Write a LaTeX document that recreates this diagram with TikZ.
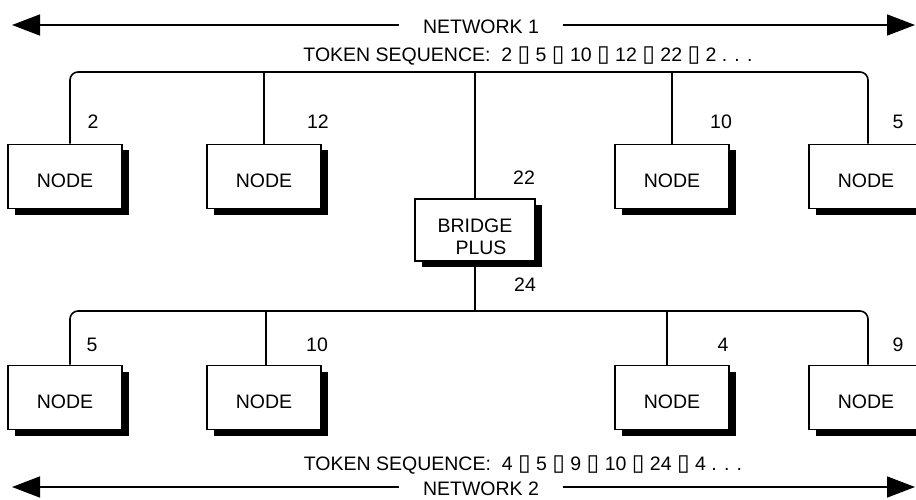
\documentclass[tikz,border=0pt]{standalone}
\usepackage{fontspec}
\setmainfont{Liberation Sans}
\newfontfamily\symfont{DejaVu Sans}
\usetikzlibrary{arrows.meta,shadows}
\newcommand{\tokbox}{{\symfont\fontsize{23}{23}\selectfont ▯}}
\begin{document}
\begin{tikzpicture}[x=1pt,y=-1pt,
  font=\fontsize{19.5}{22}\selectfont,
  nodebox/.style={draw, line width=1.7pt, fill=white, minimum width=114pt,
    minimum height=64pt, inner sep=0pt, text height=22pt, text depth=0pt,
    drop shadow={shadow xshift=7pt, shadow yshift=-6pt, opacity=1, fill=black}},
  bridgebox/.style={nodebox, minimum width=120pt, minimum height=62pt, align=center, text height=, text depth=},
  bus/.style={line width=1.6pt},
  netarrow/.style={line width=1.6pt, -{Triangle[length=28pt,width=21pt]}},
  lbl/.style={inner sep=0pt}
]
\useasboundingbox (0,0) rectangle (916,500);

% Network 1 arrows
\node[lbl, inner xsep=24pt] (net1) at (481,27) {NETWORK 1};
\coordinate (n1L) at (12,25);
\coordinate (n1R) at (915,25);
\draw[netarrow] (n1L -| net1.west) -- (n1L);
\draw[netarrow] (n1R -| net1.east) -- (n1R);
\node[lbl] (tok1) at (528,56) {TOKEN SEQUENCE:\ \ 2 \tokbox\ 5 \tokbox\ 10 \tokbox\ 12 \tokbox\ 22 \tokbox\ 2 . . .};

% Network 2 arrows
\node[lbl, inner xsep=24pt] (net2) at (481,489) {NETWORK 2};
\coordinate (n2L) at (12,487);
\coordinate (n2R) at (915,487);
\draw[netarrow] (n2L -| net2.west) -- (n2L);
\draw[netarrow] (n2R -| net2.east) -- (n2R);
\node[lbl] (tok2) at (523,465) {TOKEN SEQUENCE:\ \ 4 \tokbox\ 5 \tokbox\ 9 \tokbox\ 10 \tokbox\ 24 \tokbox\ 4 . . .};

% Top nodes
\node[nodebox] (t1) at (65,176.5) {NODE};
\node[nodebox] (t2) at (264,176.5) {NODE};
\node[nodebox] (t3) at (672,176.5) {NODE};
\node[nodebox] (t4) at (866,176.5) {NODE};

% Bridge
\node[bridgebox] (br) at (475,230) {\rule{0pt}{28pt}BRIDGE\\\hspace*{12pt}PLUS};

% Bottom nodes
\node[nodebox] (b1) at (65,397.5) {NODE};
\node[nodebox] (b2) at (264,397.5) {NODE};
\node[nodebox] (b3) at (672,397.5) {NODE};
\node[nodebox] (b4) at (866,397.5) {NODE};

% Top bus
\coordinate (tl) at (70,72);
\coordinate (tr) at (868,72);
\draw[bus, rounded corners=8pt] (tl |- t1.north) -- (tl) -- (tr) -- (tr |- t4.north);
\draw[bus] (t2.north) -- (t2.north |- tl);
\draw[bus] (t3.north) -- (t3.north |- tl);
\draw[bus] (br.north) -- (br.north |- tl);

% Bottom bus
\coordinate (bl) at (70,311);
\coordinate (brr) at (868,311);
\draw[bus, rounded corners=8pt] (bl |- b1.north) -- (bl) -- (brr) -- (brr |- b4.north);
\draw[bus] ([xshift=2pt]b2.north) -- ([xshift=2pt]b2.north |- bl);
\draw[bus] ([xshift=-5pt]b3.north) -- ([xshift=-5pt]b3.north |- bl);
\draw[bus] (br.south) -- (br.south |- bl);

% Token labels
\node[lbl] (l2) at (93,122) {2};
\node[lbl] (l12) at (318,122) {12};
\node[lbl] (l10) at (721,122) {10};
\node[lbl] (l5) at (898,122) {5};
\node[lbl] (l22) at (524,178) {22};
\node[lbl] (l24) at (525,285) {24};
\node[lbl] (m5) at (92,345) {5};
\node[lbl] (m10) at (317,345) {10};
\node[lbl] (m4) at (723,345) {4};
\node[lbl] (m9) at (898,345) {9};
\end{tikzpicture}
\end{document}
